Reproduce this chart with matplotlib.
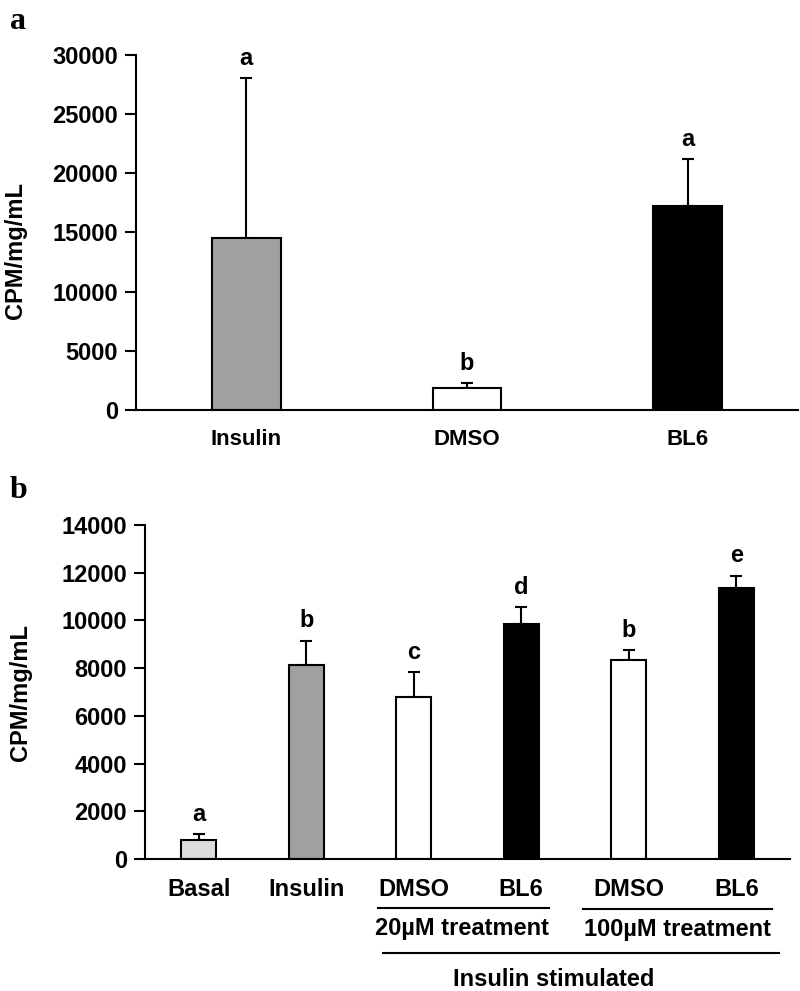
import numpy as np
import matplotlib.pyplot as plt
from matplotlib.transforms import blended_transform_factory

plt.rcParams["font.family"] = ["Liberation Sans", "DejaVu Sans"]
plt.rcParams["font.weight"] = "bold"

# ---- panel a data ----
a_groups = ["Insulin", "DMSO", "BL6"]
a_means = [14550, 1850, 17200]
a_errs = [13500, 420, 4000]
a_letters = ["a", "b", "a"]
a_colors = ["#a0a0a0", "white", "black"]

# ---- panel b data ----
b_groups = ["Basal", "Insulin", "DMSO", "BL6", "DMSO", "BL6"]
b_means = [800, 8150, 6800, 9850, 8340, 11350]
b_errs = [250, 1000, 1020, 720, 410, 520]
b_letters = ["a", "b", "c", "d", "b", "e"]
b_colors = ["#dcdcdc", "#a0a0a0", "white", "black", "white", "black"]

fig = plt.figure(figsize=(8, 9.91), dpi=100)

FS = 17
LW = 1.5


def style_axis(ax, xfs):
    for side in ["top", "right"]:
        ax.spines[side].set_visible(False)
    ax.spines["left"].set_linewidth(LW)
    ax.spines["bottom"].set_linewidth(LW)
    ax.tick_params(axis="y", length=8, width=LW, labelsize=FS, pad=5)
    ax.tick_params(axis="x", length=0, labelsize=xfs, pad=14)
    ax.set_ylabel("CPM/mg/mL", fontsize=FS, fontweight="bold")


def draw_bars(ax, means, errs, colors, letters, width, letter_gap):
    x = np.arange(len(means))
    ax.bar(x, means, width=width, color=colors, edgecolor="black", linewidth=LW, zorder=2)
    ax.errorbar(x, means, yerr=[np.zeros(len(errs)), errs], fmt="none", ecolor="black",
                elinewidth=LW, capsize=4, capthick=LW, zorder=1)
    for xi, m, e, lab in zip(x, means, errs, letters):
        ax.text(xi, m + e + letter_gap, lab, ha="center", va="bottom", fontsize=FS, fontweight="bold")
    return x


# ---------------- panel a ----------------
ax1 = fig.add_axes([0.17, 0.5863, 0.8275, 0.3582])
x1 = draw_bars(ax1, a_means, a_errs, a_colors, a_letters, 0.31, 700)
ax1.set_xlim(-0.5, 2.5)
ax1.set_ylim(0, 30000)
ax1.set_yticks(np.arange(0, 30001, 5000))
ax1.set_xticks(x1)
ax1.set_xticklabels(a_groups, fontweight="bold")
style_axis(ax1, 16)
ax1.yaxis.set_label_coords(-0.165, 0.45)

# ---------------- panel b ----------------
ax2 = fig.add_axes([0.18125, 0.1332, 0.80625, 0.337])
x2 = draw_bars(ax2, b_means, b_errs, b_colors, b_letters, 0.325, 350)
ax2.set_xlim(-0.5, 5.5)
ax2.set_ylim(0, 14000)
ax2.set_yticks(np.arange(0, 14001, 2000))
ax2.set_xticks(x2)
ax2.set_xticklabels(b_groups, fontweight="bold")
style_axis(ax2, FS)
ax2.yaxis.set_label_coords(-0.175, 0.5)

# group brackets under panel b
tr = blended_transform_factory(ax2.transData, ax2.transAxes)
ax2.plot([1.67, 3.26], [-0.146, -0.146], color="black", lw=LW, transform=tr, clip_on=False)
ax2.plot([3.57, 5.33], [-0.149, -0.149], color="black", lw=LW, transform=tr, clip_on=False)
ax2.plot([1.71, 5.40], [-0.281, -0.281], color="black", lw=LW, transform=tr, clip_on=False)
ax2.text(2.45, -0.207, "20µM treatment", transform=tr, ha="center", va="center",
         fontsize=FS, fontweight="bold")
ax2.text(4.45, -0.212, "100µM treatment", transform=tr, ha="center", va="center",
         fontsize=FS, fontweight="bold")
ax2.text(3.3, -0.362, "Insulin stimulated", transform=tr, ha="center", va="center",
         fontsize=FS, fontweight="bold")

# panel letters
fig.text(0.012, 0.978, "a", family="Liberation Serif", fontsize=23, fontweight="bold", va="center")
fig.text(0.012, 0.505, "b", family="Liberation Serif", fontsize=23, fontweight="bold", va="center")

fig.savefig("out.png", dpi=100)
